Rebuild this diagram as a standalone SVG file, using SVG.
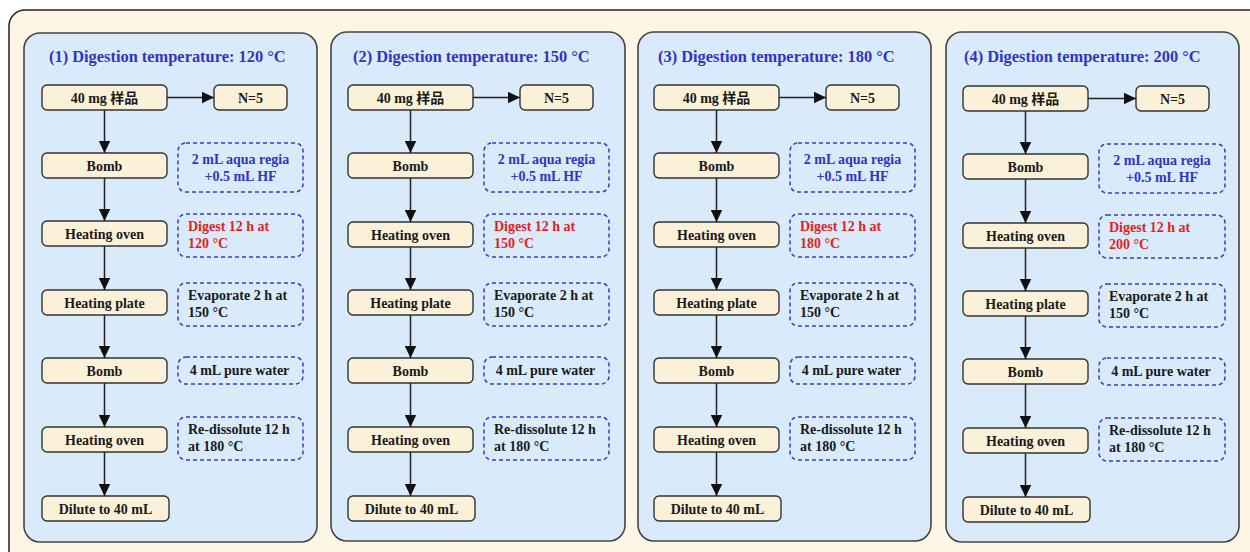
<svg xmlns="http://www.w3.org/2000/svg" width="1250" height="552" viewBox="0 0 1250 552">
<defs>
<style>
.bg{fill:#fdf6e4;stroke:#222;stroke-width:1.5}
.panel{fill:#d9eafa;stroke:#444;stroke-width:1.6}
.node{fill:#fbf1d9;stroke:#333;stroke-width:1.4}
.dash{fill:none;stroke:#3b3bbf;stroke-width:1.5;stroke-dasharray:4 3}
text{font-family:"Liberation Serif","Noto Sans CJK SC",serif;font-weight:bold}
.title{font-size:16.4px;fill:#3035c4}
.lbl{font-size:14px;fill:#1a1a1a;text-anchor:middle}
.blue{font-size:14px;fill:#3035c4;text-anchor:middle}
.red{font-size:14px;fill:#e51f1f}
.blk{font-size:14px;fill:#1a1a1a}
.conn{stroke:#222;stroke-width:1.5;fill:none;marker-end:url(#ah)}
</style>
<marker id="ah" markerUnits="userSpaceOnUse" markerWidth="13" markerHeight="12" refX="12.5" refY="6" orient="auto">
<path d="M0,0 L12.5,6 L0,12 z" fill="#111"/>
</marker>
</defs>
<rect class="bg" x="9" y="10" width="1270" height="570" rx="16"/>

<g id="panel1">
<rect class="panel" x="24" y="33" width="293" height="509" rx="16"/>
<text class="title" x="49" y="62">(1) Digestion temperature: 120 °C</text>
<g id="p1-sample"><rect class="node" x="42" y="85" width="125" height="25" rx="5"/><text class="lbl" x="104.5" y="103">40 mg 样品</text></g>
<g id="p1-n"><rect class="node" x="214" y="85" width="73" height="25" rx="5"/><text class="lbl" x="250.5" y="103">N=5</text></g>
<g id="p1-bomb1"><rect class="node" x="42" y="153" width="125" height="25" rx="5"/><text class="lbl" x="104.5" y="171">Bomb</text></g>
<g id="p1-oven1"><rect class="node" x="42" y="221" width="125" height="25" rx="5"/><text class="lbl" x="104.5" y="239">Heating oven</text></g>
<g id="p1-plate"><rect class="node" x="42" y="290" width="125" height="25" rx="5"/><text class="lbl" x="104.5" y="308">Heating plate</text></g>
<g id="p1-bomb2"><rect class="node" x="42" y="358" width="125" height="25" rx="5"/><text class="lbl" x="104.5" y="376">Bomb</text></g>
<g id="p1-oven2"><rect class="node" x="42" y="427" width="125" height="25" rx="5"/><text class="lbl" x="104.5" y="445">Heating oven</text></g>
<g id="p1-dilute"><rect class="node" x="42" y="496" width="127" height="25" rx="5"/><text class="lbl" x="105.5" y="514">Dilute to 40 mL</text></g>
<g id="p1-acid"><rect class="dash" x="178" y="143" width="125" height="49" rx="8"/><text class="blue" x="240.5" y="164">2 mL aqua regia</text><text class="blue" x="240.5" y="181">+0.5 mL HF</text></g>
<g id="p1-digest"><rect class="dash" x="178" y="214" width="125" height="43" rx="8"/><text class="red" x="188" y="231">Digest 12 h at</text><text class="red" x="188" y="248">120 °C</text></g>
<g id="p1-evap"><rect class="dash" x="178" y="283" width="125" height="43" rx="8"/><text class="blk" x="188" y="300">Evaporate 2 h at</text><text class="blk" x="188" y="317">150 °C</text></g>
<g id="p1-water"><rect class="dash" x="178" y="357" width="125" height="27" rx="8"/><text class="blue" style="fill:#1a1a1a" x="239.5" y="375">4 mL pure water</text></g>
<g id="p1-redis"><rect class="dash" x="178" y="417" width="125" height="43" rx="8"/><text class="blk" x="188" y="434">Re-dissolute 12 h</text><text class="blk" x="188" y="451">at 180 °C</text></g>
<g id="p1-connectors">
<line class="conn" x1="167" y1="97.5" x2="214" y2="97.5"/>
<line class="conn" x1="104.5" y1="110" x2="104.5" y2="153"/>
<line class="conn" x1="104.5" y1="178" x2="104.5" y2="221"/>
<line class="conn" x1="104.5" y1="246" x2="104.5" y2="290"/>
<line class="conn" x1="104.5" y1="315" x2="104.5" y2="358"/>
<line class="conn" x1="104.5" y1="383" x2="104.5" y2="427"/>
<line class="conn" x1="104.5" y1="452" x2="104.5" y2="496"/>
</g>
</g>

<g id="panel2" transform="translate(306,0)">
<rect class="panel" x="25" y="32" width="294" height="509" rx="16"/>
<text class="title" x="47" y="62">(2) Digestion temperature: 150 °C</text>
<g id="p2-sample"><rect class="node" x="42" y="85" width="125" height="25" rx="5"/><text class="lbl" x="104.5" y="103">40 mg 样品</text></g>
<g id="p2-n"><rect class="node" x="214" y="85" width="73" height="25" rx="5"/><text class="lbl" x="250.5" y="103">N=5</text></g>
<g id="p2-bomb1"><rect class="node" x="42" y="153" width="125" height="25" rx="5"/><text class="lbl" x="104.5" y="171">Bomb</text></g>
<g id="p2-oven1"><rect class="node" x="42" y="222" width="125" height="25" rx="5"/><text class="lbl" x="104.5" y="240">Heating oven</text></g>
<g id="p2-plate"><rect class="node" x="42" y="290" width="125" height="25" rx="5"/><text class="lbl" x="104.5" y="308">Heating plate</text></g>
<g id="p2-bomb2"><rect class="node" x="42" y="358" width="125" height="25" rx="5"/><text class="lbl" x="104.5" y="376">Bomb</text></g>
<g id="p2-oven2"><rect class="node" x="42" y="427" width="125" height="25" rx="5"/><text class="lbl" x="104.5" y="445">Heating oven</text></g>
<g id="p2-dilute"><rect class="node" x="42" y="496" width="127" height="25" rx="5"/><text class="lbl" x="105.5" y="514">Dilute to 40 mL</text></g>
<g id="p2-acid"><rect class="dash" x="178" y="143" width="125" height="49" rx="8"/><text class="blue" x="240.5" y="164">2 mL aqua regia</text><text class="blue" x="240.5" y="181">+0.5 mL HF</text></g>
<g id="p2-digest"><rect class="dash" x="178" y="214" width="125" height="43" rx="8"/><text class="red" x="188" y="231">Digest 12 h at</text><text class="red" x="188" y="248">150 °C</text></g>
<g id="p2-evap"><rect class="dash" x="178" y="283" width="125" height="43" rx="8"/><text class="blk" x="188" y="300">Evaporate 2 h at</text><text class="blk" x="188" y="317">150 °C</text></g>
<g id="p2-water"><rect class="dash" x="178" y="357" width="125" height="27" rx="8"/><text class="blue" style="fill:#1a1a1a" x="239.5" y="375">4 mL pure water</text></g>
<g id="p2-redis"><rect class="dash" x="178" y="417" width="125" height="43" rx="8"/><text class="blk" x="188" y="434">Re-dissolute 12 h</text><text class="blk" x="188" y="451">at 180 °C</text></g>
<g id="p2-connectors">
<line class="conn" x1="167" y1="97.5" x2="214" y2="97.5"/>
<line class="conn" x1="104.5" y1="110" x2="104.5" y2="153"/>
<line class="conn" x1="104.5" y1="178" x2="104.5" y2="222"/>
<line class="conn" x1="104.5" y1="247" x2="104.5" y2="290"/>
<line class="conn" x1="104.5" y1="315" x2="104.5" y2="358"/>
<line class="conn" x1="104.5" y1="383" x2="104.5" y2="427"/>
<line class="conn" x1="104.5" y1="452" x2="104.5" y2="496"/>
</g>
</g>

<g id="panel3" transform="translate(612,0)">
<rect class="panel" x="26" y="32" width="293" height="509" rx="16"/>
<text class="title" x="46" y="62">(3) Digestion temperature: 180 °C</text>
<g id="p3-sample"><rect class="node" x="42" y="85" width="125" height="25" rx="5"/><text class="lbl" x="104.5" y="103">40 mg 样品</text></g>
<g id="p3-n"><rect class="node" x="214" y="85" width="73" height="25" rx="5"/><text class="lbl" x="250.5" y="103">N=5</text></g>
<g id="p3-bomb1"><rect class="node" x="42" y="153" width="125" height="25" rx="5"/><text class="lbl" x="104.5" y="171">Bomb</text></g>
<g id="p3-oven1"><rect class="node" x="42" y="222" width="125" height="25" rx="5"/><text class="lbl" x="104.5" y="240">Heating oven</text></g>
<g id="p3-plate"><rect class="node" x="42" y="290" width="125" height="25" rx="5"/><text class="lbl" x="104.5" y="308">Heating plate</text></g>
<g id="p3-bomb2"><rect class="node" x="42" y="358" width="125" height="25" rx="5"/><text class="lbl" x="104.5" y="376">Bomb</text></g>
<g id="p3-oven2"><rect class="node" x="42" y="427" width="125" height="25" rx="5"/><text class="lbl" x="104.5" y="445">Heating oven</text></g>
<g id="p3-dilute"><rect class="node" x="42" y="496" width="127" height="25" rx="5"/><text class="lbl" x="105.5" y="514">Dilute to 40 mL</text></g>
<g id="p3-acid"><rect class="dash" x="178" y="143" width="125" height="49" rx="8"/><text class="blue" x="240.5" y="164">2 mL aqua regia</text><text class="blue" x="240.5" y="181">+0.5 mL HF</text></g>
<g id="p3-digest"><rect class="dash" x="178" y="214" width="125" height="43" rx="8"/><text class="red" x="188" y="231">Digest 12 h at</text><text class="red" x="188" y="248">180 °C</text></g>
<g id="p3-evap"><rect class="dash" x="178" y="283" width="125" height="43" rx="8"/><text class="blk" x="188" y="300">Evaporate 2 h at</text><text class="blk" x="188" y="317">150 °C</text></g>
<g id="p3-water"><rect class="dash" x="178" y="357" width="125" height="27" rx="8"/><text class="blue" style="fill:#1a1a1a" x="239.5" y="375">4 mL pure water</text></g>
<g id="p3-redis"><rect class="dash" x="178" y="417" width="125" height="43" rx="8"/><text class="blk" x="188" y="434">Re-dissolute 12 h</text><text class="blk" x="188" y="451">at 180 °C</text></g>
<g id="p3-connectors">
<line class="conn" x1="167" y1="97.5" x2="214" y2="97.5"/>
<line class="conn" x1="104.5" y1="110" x2="104.5" y2="153"/>
<line class="conn" x1="104.5" y1="178" x2="104.5" y2="222"/>
<line class="conn" x1="104.5" y1="247" x2="104.5" y2="290"/>
<line class="conn" x1="104.5" y1="315" x2="104.5" y2="358"/>
<line class="conn" x1="104.5" y1="383" x2="104.5" y2="427"/>
<line class="conn" x1="104.5" y1="452" x2="104.5" y2="496"/>
</g>
</g>

<g id="panel4" transform="translate(921,0)">
<rect class="panel" x="25" y="32" width="293" height="510" rx="16"/>
<text class="title" x="43" y="62">(4) Digestion temperature: 200 °C</text>
<g id="p4-sample"><rect class="node" x="42" y="86" width="125" height="25" rx="5"/><text class="lbl" x="104.5" y="104">40 mg 样品</text></g>
<g id="p4-n"><rect class="node" x="215" y="86" width="73" height="25" rx="5"/><text class="lbl" x="251.5" y="104">N=5</text></g>
<g id="p4-bomb1"><rect class="node" x="42" y="154" width="125" height="25" rx="5"/><text class="lbl" x="104.5" y="172">Bomb</text></g>
<g id="p4-oven1"><rect class="node" x="42" y="223" width="125" height="25" rx="5"/><text class="lbl" x="104.5" y="241">Heating oven</text></g>
<g id="p4-plate"><rect class="node" x="42" y="291" width="125" height="25" rx="5"/><text class="lbl" x="104.5" y="309">Heating plate</text></g>
<g id="p4-bomb2"><rect class="node" x="42" y="359" width="125" height="25" rx="5"/><text class="lbl" x="104.5" y="377">Bomb</text></g>
<g id="p4-oven2"><rect class="node" x="42" y="428" width="125" height="25" rx="5"/><text class="lbl" x="104.5" y="446">Heating oven</text></g>
<g id="p4-dilute"><rect class="node" x="42" y="497" width="127" height="25" rx="5"/><text class="lbl" x="105.5" y="515">Dilute to 40 mL</text></g>
<g id="p4-acid"><rect class="dash" x="178" y="144" width="126" height="49" rx="8"/><text class="blue" x="241" y="165">2 mL aqua regia</text><text class="blue" x="241" y="182">+0.5 mL HF</text></g>
<g id="p4-digest"><rect class="dash" x="178" y="215" width="126" height="43" rx="8"/><text class="red" x="188" y="232">Digest 12 h at</text><text class="red" x="188" y="249">200 °C</text></g>
<g id="p4-evap"><rect class="dash" x="178" y="284" width="126" height="43" rx="8"/><text class="blk" x="188" y="301">Evaporate 2 h at</text><text class="blk" x="188" y="318">150 °C</text></g>
<g id="p4-water"><rect class="dash" x="178" y="358" width="126" height="27" rx="8"/><text class="blue" style="fill:#1a1a1a" x="240" y="376">4 mL pure water</text></g>
<g id="p4-redis"><rect class="dash" x="178" y="418" width="126" height="43" rx="8"/><text class="blk" x="188" y="435">Re-dissolute 12 h</text><text class="blk" x="188" y="452">at 180 °C</text></g>
<g id="p4-connectors">
<line class="conn" x1="167" y1="98.5" x2="215" y2="98.5"/>
<line class="conn" x1="104.5" y1="111" x2="104.5" y2="154"/>
<line class="conn" x1="104.5" y1="179" x2="104.5" y2="223"/>
<line class="conn" x1="104.5" y1="248" x2="104.5" y2="291"/>
<line class="conn" x1="104.5" y1="316" x2="104.5" y2="359"/>
<line class="conn" x1="104.5" y1="384" x2="104.5" y2="428"/>
<line class="conn" x1="104.5" y1="453" x2="104.5" y2="497"/>
</g>
</g>
</svg>
